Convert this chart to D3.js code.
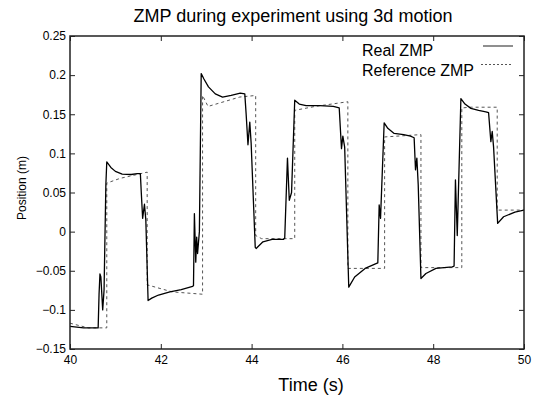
<!DOCTYPE html>
<html>
<head>
<meta charset="utf-8">
<script src="https://cdn.jsdelivr.net/npm/d3@7"></script>
<style>
  html, body { margin: 0; padding: 0; background: #fff; }
  svg { display: block; font-family: "Liberation Sans", Arial, Helvetica, sans-serif; }
</style>
</head>
<body>
<svg id="chart" width="543" height="401"></svg>
<script>
// ---- data ----
const chartTitle = "ZMP during experiment using 3d motion";
const xLabel = "Time (s)";
const yLabel = "Position (m)";
const seriesNames = ["Real ZMP", "Reference ZMP"];

const xTicks = [40, 42, 44, 46, 48, 50];
const xTickLabels = ["40", "42", "44", "46", "48", "50"];
const yTicks = [-0.15, -0.1, -0.05, 0, 0.05, 0.1, 0.15, 0.2, 0.25];
const yTickLabels = ["\u22120.15", "\u22120.1", "\u22120.05", "0", "0.05", "0.1", "0.15", "0.2", "0.25"];

const realTime = [
  40.00, 40.30, 40.62, 40.64, 40.66, 40.68, 40.72, 40.75, 40.79, 40.81,
  40.90, 41.00, 41.15, 41.35, 41.48, 41.55, 41.57, 41.60, 41.64, 41.67,
  41.72, 41.80, 41.95, 42.20, 42.45, 42.70, 42.72, 42.74, 42.77, 42.79,
  42.81, 42.85, 42.89, 42.95, 43.05, 43.20, 43.36, 43.55, 43.75, 43.85,
  43.88, 43.92, 43.96, 43.99, 44.08, 44.10, 44.25, 44.45, 44.70, 44.73,
  44.79, 44.83, 44.88, 44.95, 45.05, 45.20, 45.50, 45.80, 45.93, 45.98,
  46.01, 46.05, 46.14, 46.27, 46.50, 46.74, 46.78, 46.81, 46.84, 46.92,
  47.00, 47.14, 47.35, 47.50, 47.58, 47.61, 47.64, 47.67, 47.73, 47.84,
  48.06, 48.42, 48.46, 48.49, 48.53, 48.61, 48.70, 48.83, 49.00, 49.16,
  49.22, 49.27, 49.30, 49.33, 49.42, 49.55, 49.80, 50.00
];
const realValue = [
  -0.121, -0.123, -0.123, -0.080, -0.054, -0.058, -0.100, -0.075, 0.060, 0.089,
  0.082, 0.077, 0.0735, 0.073, 0.074, 0.074, 0.050, 0.017, 0.035, 0.015,
  -0.088, -0.085, -0.081, -0.077, -0.074, -0.070, -0.069, 0.023, -0.039, -0.007,
  -0.028, 0.000, 0.202, 0.195, 0.185, 0.176, 0.172, 0.174, 0.177, 0.176,
  0.150, 0.111, 0.140, 0.113, -0.020, -0.0215, -0.013, -0.010, -0.010, -0.008,
  0.094, 0.040, 0.050, 0.168, 0.163, 0.161, 0.161, 0.160, 0.158, 0.106,
  0.122, 0.108, -0.071, -0.058, -0.047, -0.041, -0.040, 0.034, 0.017, 0.139,
  0.132, 0.1255, 0.124, 0.122, 0.120, 0.079, 0.094, 0.060, -0.060, -0.0535,
  -0.047, -0.045, -0.044, 0.066, -0.005, 0.170, 0.163, 0.1575, 0.155, 0.153,
  0.152, 0.115, 0.128, 0.108, 0.0105, 0.019, 0.025, 0.0275
];

const refTime = [
  40.00, 40.40, 40.81, 40.81, 41.10, 41.70, 41.70, 42.25, 42.92, 42.92,
  43.04, 43.74, 44.09, 44.09, 44.22, 44.95, 44.95, 45.40, 46.12, 46.12,
  46.93, 46.93, 47.73, 47.73, 48.63, 48.63, 48.80, 49.41, 49.41, 50.00
];
const refValue = [
  -0.117, -0.123, -0.123, 0.062, 0.068, 0.076, -0.068, -0.077, -0.080, 0.174,
  0.160, 0.172, 0.174, -0.005, -0.009, -0.009, 0.155, 0.160, 0.166, -0.047,
  -0.047, 0.121, 0.124, -0.046, -0.046, 0.158, 0.159, 0.159, 0.0275, 0.0275
];

// ---- drawing ----
const W = 543, H = 401;
const margin = { left: 70, right: 19, top: 36, bottom: 52 };
const svg = d3.select("#chart");

const x = d3.scaleLinear().domain([40, 50]).range([margin.left, W - margin.right]);
const y = d3.scaleLinear().domain([-0.15, 0.25]).range([H - margin.bottom, margin.top]);

const tickLen = 5;
const fontTick = 12;

// Axes (inward ticks, mirrored on top/right)
const xBottom = d3.axisBottom(x).tickValues(xTicks).tickSizeInner(-tickLen).tickSizeOuter(0)
  .tickPadding(6).tickFormat((d, i) => xTickLabels[i]);
const xTop = d3.axisTop(x).tickValues(xTicks).tickSizeInner(-tickLen).tickSizeOuter(0).tickFormat("");
const yLeft = d3.axisLeft(y).tickValues(yTicks).tickSizeInner(-tickLen).tickSizeOuter(0)
  .tickPadding(4).tickFormat((d, i) => yTickLabels[i]);
const yRight = d3.axisRight(y).tickValues(yTicks).tickSizeInner(-tickLen).tickSizeOuter(0).tickFormat("");

function styleAxis(g) {
  g.select(".domain").remove();
  g.selectAll(".tick line").attr("stroke", "#222").attr("stroke-width", 1);
  g.selectAll(".tick text").attr("fill", "#000").style("font-size", fontTick + "px")
    .style("font-family", '"Liberation Sans", Arial, Helvetica, sans-serif');
}

svg.append("g").attr("transform", `translate(0,${y(-0.15)})`).call(xBottom).call(styleAxis);
svg.append("g").attr("transform", `translate(0,${y(0.25)})`).call(xTop).call(styleAxis);
svg.append("g").attr("transform", `translate(${x(40)},0)`).call(yLeft).call(styleAxis);
svg.append("g").attr("transform", `translate(${x(50)},0)`).call(yRight).call(styleAxis);

// Clip
svg.append("clipPath").attr("id", "plotClip").append("rect")
  .attr("x", x(40)).attr("y", y(0.25)).attr("width", x(50) - x(40)).attr("height", y(-0.15) - y(0.25));

const refData = refTime.map((t, i) => [t, refValue[i]]);
const realData = realTime.map((t, i) => [t, realValue[i]]);
const line = d3.line().x(d => x(d[0])).y(d => y(d[1]));

const plot = svg.append("g").attr("clip-path", "url(#plotClip)");
plot.append("path").datum(refData).attr("d", line)
  .attr("fill", "none").attr("stroke", "#555").attr("stroke-width", 1).attr("stroke-dasharray", "3,3");
plot.append("path").datum(realData).attr("d", line)
  .attr("fill", "none").attr("stroke", "#000").attr("stroke-width", 1.3).attr("stroke-linejoin", "round");

// Frame
svg.append("rect")
  .attr("x", x(40)).attr("y", y(0.25)).attr("width", x(50) - x(40)).attr("height", y(-0.15) - y(0.25))
  .attr("fill", "none").attr("stroke", "#222").attr("stroke-width", 1.5);

// Title
svg.append("text").attr("x", 293).attr("y", 22).attr("text-anchor", "middle")
  .style("font-size", "18px").attr("fill", "#000").text(chartTitle);

// X label
svg.append("text").attr("x", 311).attr("y", 391).attr("text-anchor", "middle")
  .style("font-size", "18px").attr("fill", "#000").text(xLabel);

// Y label
svg.append("text").attr("transform", `translate(26,188) rotate(-90)`).attr("text-anchor", "middle")
  .style("font-size", "12px").attr("fill", "#000").text(yLabel);

// Legend
const legendX = 362;
const legend = svg.append("g");
legend.append("text").attr("x", legendX).attr("y", 56).style("font-size", "16px").attr("fill", "#000").text(seriesNames[0]);
legend.append("text").attr("x", legendX).attr("y", 75.5).style("font-size", "16px").attr("fill", "#000").text(seriesNames[1]);
legend.append("line").attr("x1", 483).attr("x2", 513).attr("y1", 46).attr("y2", 46)
  .attr("stroke", "#444").attr("stroke-width", 1.2);
legend.append("line").attr("x1", 481).attr("x2", 513).attr("y1", 64.5).attr("y2", 64.5)
  .attr("stroke", "#555").attr("stroke-width", 1).attr("stroke-dasharray", "2,2");
</script>
</body>
</html>
